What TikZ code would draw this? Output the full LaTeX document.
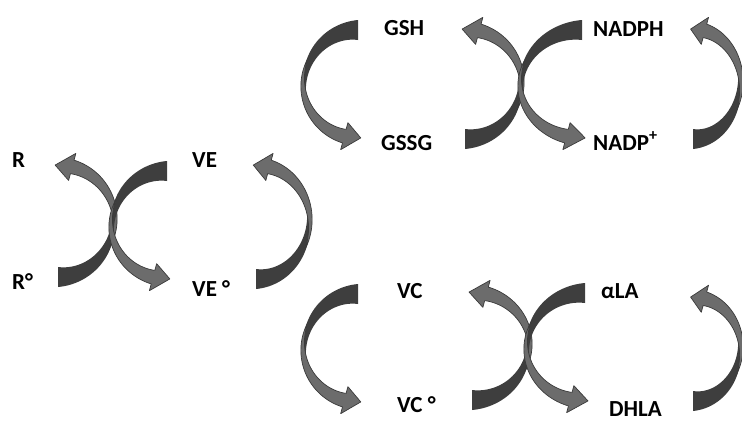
\documentclass[tikz,border=0pt]{standalone}
\usepackage{fontspec}
\setmainfont{Carlito}
\definecolor{arrdark}{HTML}{3E3E3E}
\definecolor{arrlight}{HTML}{6C6C6C}
\definecolor{arredge}{HTML}{3A3A3A}
\tikzset{
  lbl/.style={font=\fontsize{23}{27}\selectfont\bfseries, inner sep=0pt, anchor=base west},
  darkpart/.style={fill=arrdark},
  lightpart/.style={fill=arrlight, draw=arredge, line width=0.7pt, line join=round}
}
% #1,#2 centre; #3 xscale; #4 yscale; #5 RX; #6 RY
\newcommand\curvearrow[6]{%
\begin{scope}[shift={(#1,#2)}, xscale=#3, yscale=#4]
  \fill[darkpart] plot[domain=-90:12, samples=50, variable=\t]
      ({(#5+10*(12-\t)/102)*cos(\t)},{(#6+10*(12-\t)/102)*sin(\t)})
    -- plot[domain=12:-90, samples=50, variable=\t]
      ({(#5-10*(12-\t)/102)*cos(\t)},{(#6-10*(12-\t)/102)*sin(\t)}) -- cycle;
  \filldraw[lightpart] plot[domain=-28:75, samples=50, variable=\t]
      ({(#5+3+4*(\t+28)/103)*cos(\t)},{(#6+3+4*(\t+28)/103)*sin(\t)})
    -- ({(#5+14)*cos(75)},{(#6+14)*sin(75)})
    -- ({#5*cos(93)},{#6*sin(93)})
    -- ({(#5-14)*cos(75)},{(#6-14)*sin(75)})
    -- plot[domain=75:-28, samples=50, variable=\t]
      ({(#5+3-10*(\t+28)/103)*cos(\t)},{(#6+3-10*(\t+28)/103)*sin(\t)}) -- cycle;
\end{scope}}
\begin{document}
\begin{tikzpicture}[x=1pt, y=-1pt]
\useasboundingbox (0,0) rectangle (742,421);
\clip (0,0) rectangle (742,421);
% left group
\curvearrow{58}{221}{1}{-1}{55}{56}
\curvearrow{167}{225}{-1}{1}{54}{54}
\curvearrow{256}{222}{1}{-1}{52}{57}
% top group
\curvearrow{358}{84}{-1}{1}{53}{54}
\curvearrow{465}{84}{1}{-1}{55}{55}
\curvearrow{582}{84}{-1}{1}{60}{54}
\curvearrow{693}{84}{1}{-1}{46}{55}
% bottom group
\curvearrow{358}{348}{-1}{1}{53}{54}
\curvearrow{472}{346}{1}{-1}{56}{54}
\curvearrow{585}{347}{-1}{1}{57}{54}
\curvearrow{693}{349}{1}{-1}{46}{52}
% labels
\node[lbl] (R) at (12,167) {R};
\node[lbl] (Rd) at (12,289) {R°};
\node[lbl] (VE) at (192,167) {VE};
\node[lbl] (VEd) at (192,296) {VE °};
\node[lbl] (GSH) at (384,35) {GSH};
\node[lbl] (GSSG) at (381,150) {GSSG};
\node[lbl] (NADPH) at (593,36) {NADPH};
\node[lbl] (NADP) at (593,150) {NADP\textsuperscript{+}};
\node[lbl] (VC) at (397,298) {VC};
\node[lbl] (VCd) at (397,412) {VC °};
\node[lbl] (aLA) at (601,298) {αLA};
\node[lbl] (DHLA) at (609,416) {DHLA};
\end{tikzpicture}
\end{document}
